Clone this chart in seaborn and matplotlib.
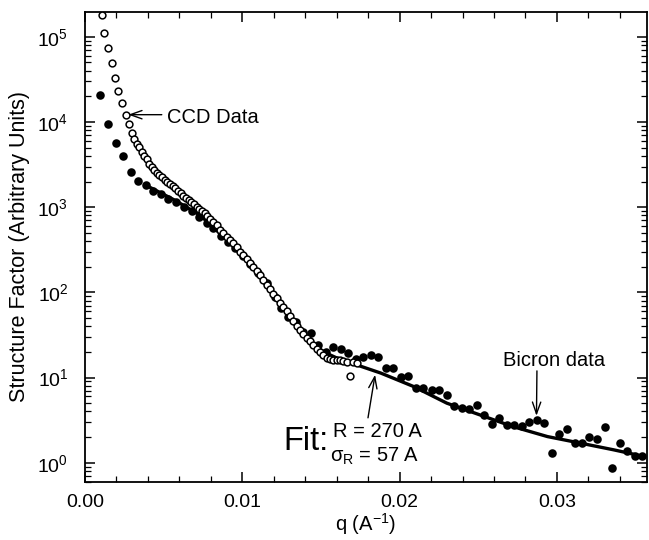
import matplotlib
matplotlib.use('Agg')
import matplotlib.pyplot as plt
import seaborn as sns
from matplotlib.ticker import MultipleLocator, LogLocator, NullFormatter

# CCD data (open circles)
ccd_q = [0.00106, 0.00123, 0.00148, 0.00170, 0.00191, 0.00212, 0.00237, 0.00259, 0.00280, 0.00297,
         0.00313, 0.00329, 0.00343, 0.00360, 0.00377, 0.00392, 0.00409, 0.00424, 0.00439, 0.00456,
         0.00472, 0.00489, 0.00507, 0.00523, 0.00540, 0.00557, 0.00574, 0.00591, 0.00608, 0.00625,
         0.00642, 0.00659, 0.00676, 0.00693, 0.00710, 0.00727, 0.00744, 0.00761, 0.00777, 0.00795,
         0.00816, 0.00837, 0.00858, 0.00879, 0.00901, 0.00922, 0.00943, 0.00964, 0.00985, 0.01006,
         0.01028, 0.01049, 0.01070, 0.01092, 0.01113, 0.01133, 0.01155, 0.01176, 0.01197, 0.01219,
         0.01240, 0.01261, 0.01282, 0.01303, 0.01324, 0.01346, 0.01367, 0.01388, 0.01409, 0.01430,
         0.01451, 0.01473, 0.01494, 0.01515, 0.01536, 0.01557, 0.01579, 0.01600, 0.01621, 0.01642,
         0.01664, 0.01685, 0.01706, 0.01727]
ccd_sf = [1.79e5, 1.12e5, 7.47e4, 4.93e4, 3.24e4, 2.32e4, 1.67e4, 1.22e4, 9420, 7330,
          6280, 5490, 5020, 4390, 3970, 3630, 3200, 2930, 2720, 2530,
          2380, 2240, 2080, 1970, 1870, 1770, 1660, 1560, 1450, 1350,
          1290, 1210, 1140, 1080, 1010, 958, 907, 846, 787, 725,
          674, 617, 539, 493, 450, 411, 376, 338, 300, 274,
          244, 219, 200, 180, 160, 140, 122, 109, 95.8, 85.3,
          75.1, 67.4, 60.5, 52.9, 46.2, 40.4, 36.3, 32.5, 29.2, 26.9,
          24.2, 21.7, 20.0, 18.5, 17.0, 16.6, 16.1, 16.1, 16.3, 15.7,
          15.3, 10.3, 15.3, 14.9]

# Bicron data (filled circles)
bicron_q = [0.00095, 0.00148, 0.00195, 0.00243, 0.00291, 0.00339, 0.00388, 0.00434, 0.00483, 0.00530,
            0.00578, 0.00629, 0.00678, 0.00727, 0.00774, 0.00816, 0.00863, 0.00911, 0.00954, 0.01006,
            0.01049, 0.01102, 0.01155, 0.01208, 0.01246, 0.01292, 0.01340, 0.01388, 0.01435, 0.01483,
            0.01531, 0.01579, 0.01626, 0.01674, 0.01723, 0.01769, 0.01816, 0.01865, 0.01914, 0.01960,
            0.02009, 0.02055, 0.02104, 0.02151, 0.02203, 0.02252, 0.02299, 0.02347, 0.02395, 0.02442,
            0.02490, 0.02536, 0.02585, 0.02634, 0.02681, 0.02728, 0.02776, 0.02824, 0.02872, 0.02919,
            0.02968, 0.03015, 0.03064, 0.03112, 0.03158, 0.03206, 0.03255, 0.03306, 0.03353, 0.03401,
            0.03448, 0.03495, 0.03541]
bicron_sf = [2.10e4, 9420, 5690, 4010, 2560, 2020, 1820, 1560, 1410, 1240,
             1140, 995, 907, 771, 646, 564, 462, 393, 329, 267,
             215, 167, 128, 89.1, 65.6, 51.9, 45.0, 34.6, 33.7, 24.2,
             20.2, 23.1, 21.5, 19.3, 16.4, 17.5, 18.2, 17.5, 12.9, 12.9,
             10.1, 10.5, 7.51, 7.57, 7.18, 7.18, 6.32, 4.66, 4.41, 4.30,
             4.75, 3.65, 2.85, 3.39, 2.81, 2.81, 2.69, 3.05, 3.17, 2.94,
             1.29, 2.19, 2.48, 1.70, 1.70, 1.99, 1.88, 2.66, 0.874, 1.70,
             1.39, 1.19, 1.19]

# fit curve (R = 270 A, sigma_R = 57 A)
fit_q = [0.0041, 0.0057, 0.0073, 0.0089, 0.0105, 0.0121, 0.0137, 0.0141, 0.0146, 0.0153, 0.0160,
         0.0167, 0.0188, 0.0209, 0.0230, 0.0251, 0.0272, 0.0294, 0.0315, 0.0336, 0.0355]
fit_sf = [1720, 1210, 808, 434, 215, 88.3, 36.3, 29.0, 23.5, 19.5, 17.0,
          15.3, 11.3, 7.84, 5.01, 3.65, 2.66, 2.03, 1.70, 1.42, 1.19]

sns.set_style("ticks")
plt.rcParams['font.family'] = ['Liberation Sans', 'DejaVu Sans']
plt.rcParams['mathtext.fontset'] = 'custom'
plt.rcParams['mathtext.rm'] = 'Liberation Sans'
plt.rcParams['mathtext.it'] = 'Liberation Sans:italic'
plt.rcParams['mathtext.bf'] = 'Liberation Sans:bold'
plt.rcParams['text.color'] = 'black'
plt.rcParams['axes.labelcolor'] = 'black'

fig = plt.figure(figsize=(6.49, 5.40), dpi=100)
ax = fig.add_axes([0.131, 0.108, 0.8655, 0.870])
ax.set_yscale('log')

sns.lineplot(x=fit_q, y=fit_sf, ax=ax, color='black', linewidth=2.4, sort=False, errorbar=None, zorder=2)
sns.scatterplot(x=bicron_q, y=bicron_sf, ax=ax, marker='o', s=38, color='black',
                edgecolor='black', linewidth=0, zorder=3)
sns.scatterplot(x=ccd_q, y=ccd_sf, ax=ax, marker='o', s=24, facecolor='white',
                edgecolor='black', linewidth=1.1, zorder=4)

ax.set_xlim(0, 0.03571)
ax.set_ylim(0.60, 1.96e5)
ax.xaxis.set_major_locator(MultipleLocator(0.01))
ax.xaxis.set_minor_locator(MultipleLocator(0.002))
ax.xaxis.set_major_formatter(matplotlib.ticker.FormatStrFormatter('%.2f'))
ax.yaxis.set_minor_locator(LogLocator(base=10, subs=range(2, 10), numticks=20))
ax.yaxis.set_minor_formatter(NullFormatter())
ax.tick_params(which='both', direction='in', top=True, right=True, colors='black',
               labelcolor='black', labelsize=14)
ax.tick_params(axis='x', which='major', pad=9)
ax.tick_params(axis='y', which='major', pad=12)
ax.tick_params(which='major', length=7, width=1.1)
ax.tick_params(which='minor', length=4, width=0.9)
for sp in ax.spines.values():
    sp.set_linewidth(1.3)
    sp.set_color('black')

ax.set_xlabel(r'q (A$^{\mathregular{-1}}$)', fontsize=14.5, labelpad=0)
ax.set_ylabel('Structure Factor (Arbitrary Units)', fontsize=15.5, labelpad=5)

arrow = dict(arrowstyle='->,head_length=0.7,head_width=0.25', color='black', lw=1,
             shrinkA=0, shrinkB=0, mutation_scale=12)

# annotations
ax.text(0.00521, 9.76e3, 'CCD Data', fontsize=14.5, ha='left', va='baseline')
ax.annotate('', xy=(0.00275, 1.218e4), xytext=(0.00488, 1.218e4), arrowprops=arrow)

ax.text(0.02982, 13.7, 'Bicron data', fontsize=14.5, ha='center', va='baseline')
ax.annotate('', xy=(0.02870, 3.56), xytext=(0.02873, 11.98), arrowprops=arrow)

ax.text(0.01259, 1.42, 'Fit:', fontsize=23.5, ha='left', va='baseline')
ax.text(0.01577, 2.03, 'R = 270 A', fontsize=14.5, ha='left', va='baseline')
ax.text(0.01558, 1.04, r'σ$_{\mathregular{R}}$ = 57 A', fontsize=14.5, ha='left', va='baseline')
ax.annotate('', xy=(0.01844, 10.8), xytext=(0.01799, 3.37), arrowprops=arrow)

plt.savefig('out.png', dpi=100)
plt.close()
